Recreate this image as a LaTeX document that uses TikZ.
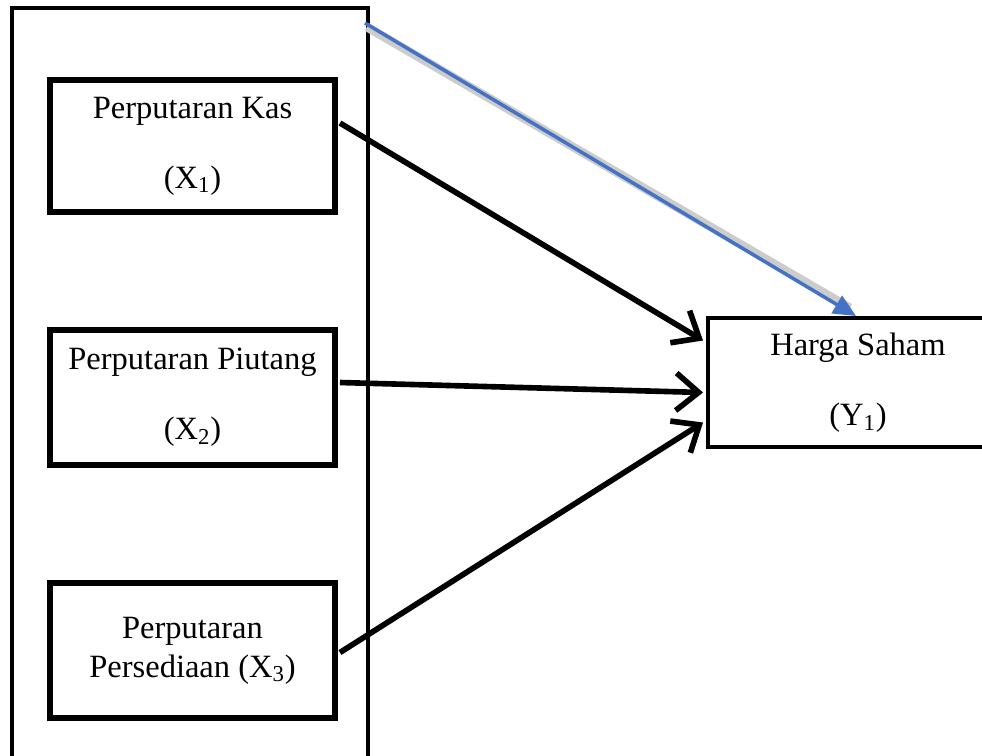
\documentclass[tikz,border=0pt]{standalone}
\usepackage{fontspec}
\setmainfont{Liberation Serif}
\usetikzlibrary{arrows.meta, calc}
\definecolor{biru}{RGB}{68,114,196}

\begin{document}
\begin{tikzpicture}[
      x=0.02cm, y=-0.02cm,
      every node/.style = {font=\fontsize{18.5}{22}\selectfont,
        align=center, inner sep=0pt},
      kotak/.style = {draw, line width=3.4pt, minimum width=5.7cm,
        minimum height=2.7cm},
      panah/.style = {line width=3.2pt,
        -{Straight Barb[length=0.45cm, width=0.75cm]}},
      bayang/.style = {gray!40, line width=5pt},
      simultan/.style = {biru, line width=2pt,
        -{Triangle[length=0.45cm, width=0.4cm]}}
    ]
      \useasboundingbox (0,0) rectangle (982,755);
      \clip (0,0) rectangle (982,755);
      \node[draw, line width=2.3pt, minimum width=7.12cm,
        minimum height=15.84cm] (grup) at (190,404) {};
      \node[kotak, minimum height=2.64cm] (x1) at (192.5,146)
        {Perputaran Kas\\[18pt](X\textsubscript{1})};
      \node[kotak] (x2) at (192.5,397.5)
        {Perputaran Piutang\\[18pt](X\textsubscript{2})};
      \node[kotak] (x3) at (192.5,650.5)
        {Perputaran\\Persediaan (X\textsubscript{3})};
      \node[draw, line width=2.3pt, minimum width=6cm,
        minimum height=2.58cm] (y1) at (858,382.5)
        {Harga Saham\\[18pt](Y\textsubscript{1})};
      \draw[panah] ($(x1.east)+(2,-23)$) -- ($(y1.west)+(-3,-42)$);
      \draw[panah] ($(x2.east)+(2,-15)$) -- ($(y1.west)+(-3,10)$);
      \draw[panah] ($(x3.east)+(2,2)$) -- ($(y1.west)+(-3,40)$);
      \draw[bayang] ($(grup.north east)+(-3,21)$) -- ($(y1.north west)+(144,-8)$);
      \draw[simultan] ($(grup.north east)+(-5,17)$) -- ($(y1.north west)+(150,0)$);
    \end{tikzpicture}
\end{document}
